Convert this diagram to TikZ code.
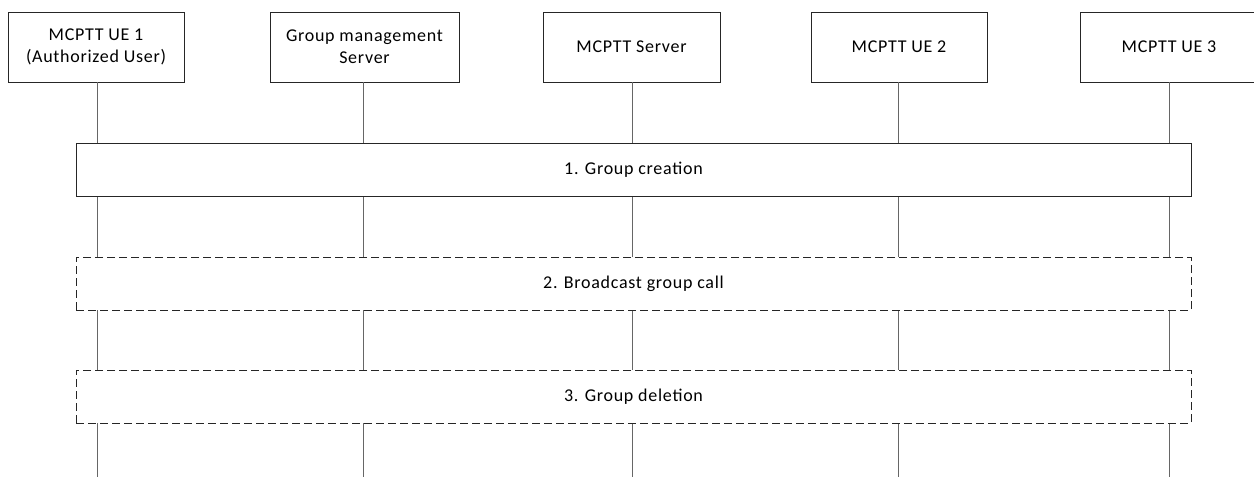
\documentclass[tikz,border=0pt]{standalone}
\usepackage{fontspec}
\setmainfont{Carlito}[LetterSpace=4]
\begin{document}
\begin{tikzpicture}[x=1pt,y=-1pt,
  entity/.style={draw=black!85,line width=0.8pt,fill=white,minimum width=176pt,minimum height=70pt,align=center,inner sep=0pt,font=\fontsize{18}{22}\selectfont},
  life/.style={draw=black!60,line width=0.9pt},
  stepbox/.style={draw=black!85,line width=0.8pt,fill=white,minimum width=1115pt,minimum height=53pt,inner sep=0pt,font=\fontsize{18}{22}\selectfont},
  optbox/.style={stepbox,dash pattern=on 8pt off 4pt}]
\useasboundingbox (0,0) rectangle (1254,477);
\node[entity] (h1) at (96,47) {MCPTT UE 1\\(Authorized User)};
\node[entity,minimum width=189pt] (h2) at (364.5,47) {Group management\\Server};
\node[entity,minimum width=177pt] (h3) at (631.5,47) {MCPTT Server};
\node[entity] (h4) at (899,47) {MCPTT UE 2};
\node[entity,minimum width=178pt] (h5) at (1169,47) {MCPTT UE 3};
\coordinate (e1) at (97,477);
\coordinate (e2) at (363.5,477);
\coordinate (e3) at (632,477);
\coordinate (e4) at (898.5,477);
\coordinate (e5) at (1169,477);
\draw[life] (e1 |- h1.south) -- (e1);
\draw[life] (e2 |- h2.south) -- (e2);
\draw[life] (e3 |- h3.south) -- (e3);
\draw[life] (e4 |- h4.south) -- (e4);
\draw[life] (e5 |- h5.south) -- (e5);
\node[stepbox] (s1) at (633.5,170) {1. Group creation};
\node[optbox] (s2) at (633.5,283.5) {2. Broadcast group call};
\node[optbox] (s3) at (633.5,396.5) {3. Group deletion};
\end{tikzpicture}
\end{document}
